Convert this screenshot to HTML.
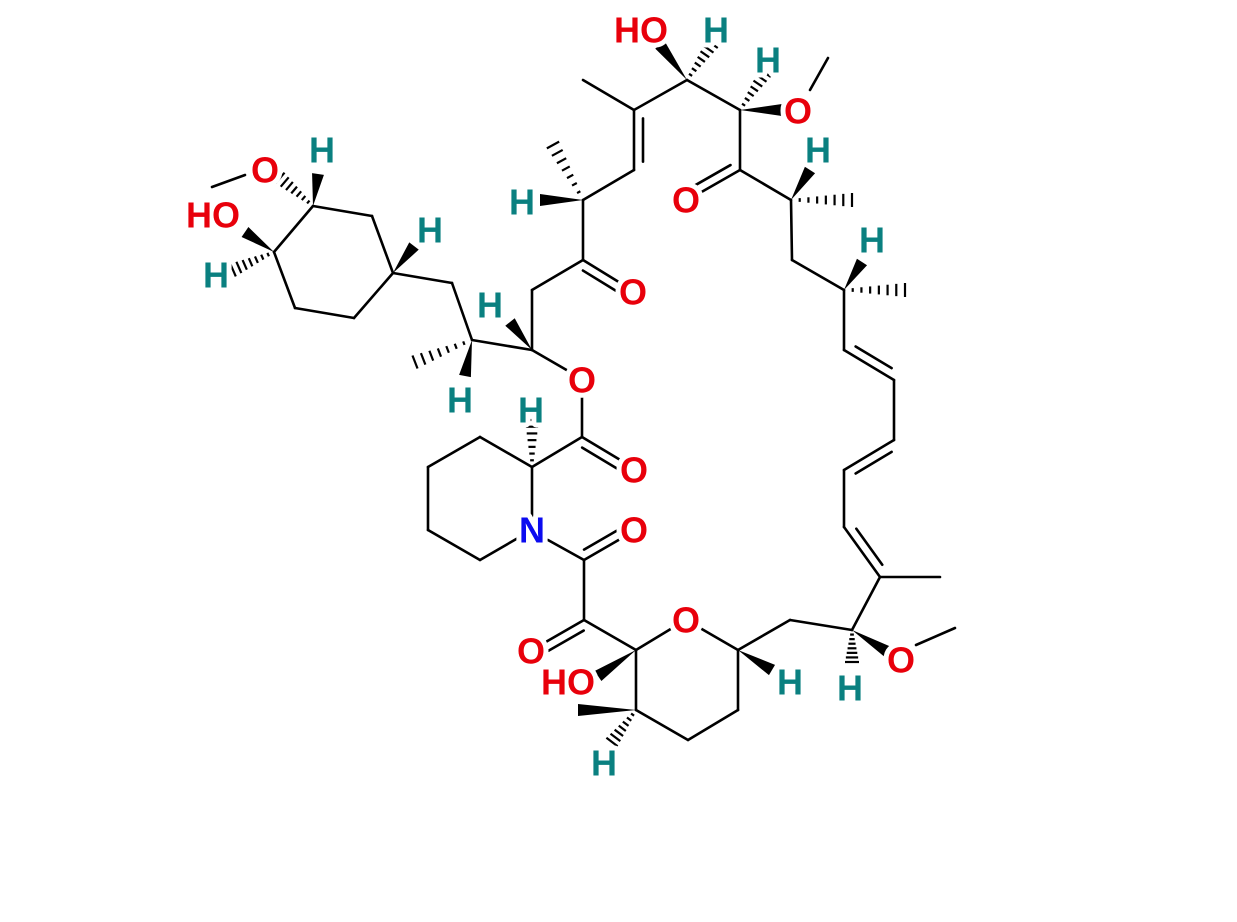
<!DOCTYPE html>
<html><head><meta charset="utf-8"><style>
html,body{margin:0;padding:0;background:#fff;}
svg{display:block}
text{font-family:"Liberation Sans",sans-serif;font-weight:bold;font-size:36px;text-anchor:middle;dominant-baseline:central;paint-order:stroke;stroke:#fff;stroke-width:10px;stroke-linejoin:round}
.O{fill:#e8000b}.H{fill:#0a8080}.N{fill:#0b0bf0}
</style></head><body>
<svg id="s" width="1237" height="922" viewBox="0 0 1237 922" xmlns="http://www.w3.org/2000/svg">
<g id="b" stroke="#000" stroke-width="2.6" stroke-linecap="round" fill="none"></g>
<g id="w" fill="#000"></g>
<g id="t"></g>
</svg>
<script>
const NS="http://www.w3.org/2000/svg";
const B=document.getElementById('b'),W=document.getElementById('w'),T=document.getElementById('t');
function L(a,b,c,d){const l=document.createElementNS(NS,'line');l.setAttribute('x1',a);l.setAttribute('y1',b);l.setAttribute('x2',c);l.setAttribute('y2',d);B.appendChild(l);}
function S(p){for(let i=0;i<p.length-1;i++)L(p[i][0],p[i][1],p[i+1][0],p[i+1][1]);}
function D(a,b,side){ // double bond, inner line offset to side (+1/-1)
 L(a[0],a[1],b[0],b[1]);
 const dx=b[0]-a[0],dy=b[1]-a[1],len=Math.hypot(dx,dy),nx=-dy/len*9*side,ny=dx/len*9*side;
 const s=0.14;
 L(a[0]+dx*s+nx,a[1]+dy*s+ny,b[0]-dx*s+nx,b[1]-dy*s+ny);}
function DO(a,b,side){ // carbonyl: inner line full-ish to O
 L(a[0],a[1],b[0],b[1]);
 const dx=b[0]-a[0],dy=b[1]-a[1],len=Math.hypot(dx,dy),nx=-dy/len*9*side,ny=dx/len*9*side;
 L(a[0]+dx*0.12+nx,a[1]+dy*0.12+ny,b[0]+nx,b[1]+ny);}
function WG(a,b){const dx=b[0]-a[0],dy=b[1]-a[1],len=Math.hypot(dx,dy),nx=-dy/len*6,ny=dx/len*6;
 const p=document.createElementNS(NS,'polygon');p.setAttribute('points',`${a[0]},${a[1]} ${b[0]+nx},${b[1]+ny} ${b[0]-nx},${b[1]-ny}`);W.appendChild(p);}
function HS(a,b){const dx=b[0]-a[0],dy=b[1]-a[1],len=Math.hypot(dx,dy),ux=-dy/len,uy=dx/len;const n=7;
 for(let i=1;i<=n;i++){const f=i/n,w=1+6*f,x=a[0]+dx*f,y=a[1]+dy*f;const l=document.createElementNS(NS,'line');
 l.setAttribute('x1',x+ux*w);l.setAttribute('y1',y+uy*w);l.setAttribute('x2',x-ux*w);l.setAttribute('y2',y-uy*w);l.setAttribute('stroke','#000');l.setAttribute('stroke-width','2.2');W.appendChild(l);}}
function X(s,x,y,c){const t=document.createElementNS(NS,'text');t.setAttribute('x',x);t.setAttribute('y',y);t.setAttribute('class',c);t.textContent=s;T.appendChild(t);}

const Ca=[687,80],Cb=[740,110],Cc=[634,110],Cd=[634,170],Ce=[583,200],Cf=[583,260],Cg=[532,290],Ch=[532,350];
const Oe=[582,380],Ci=[582,437],Cj=[532,467],N=[532,530];
const Ck=[584,560],Cl=[584,620],Cm=[636,650],Or=[686,620],Cn=[738,650],Co=[636,710];
const Cp=[790,620],Cq=[852,630],Cr=[880,577],Cs=[844,527],Ct=[844,290],Cu=[791,200],Cv=[740,170];
const Cw=[472,340],Cx=[393,273];
// top
S([Cc,Ca,Cb]);L(Cc[0],Cc[1],583,80);
D(Cc,Cd,-1);S([Cd,Ce,Cf,Cg,Ch]);
WG(Ca,[660,45]);HS(Ca,[712,44]);
HS(Cb,[765,73]);WG(Cb,[782,110]);L(810,90,828,58);
HS(Ce,[553,145]);WG(Ce,[540,200]);
DO(Cf,[622,284],1);
WG(Ch,[510,322]);
L(Ch[0],Ch[1],570,372);L(582,396,Ci[0],Ci[1]);
DO(Ci,[622,461],1);
S([Ci,Cj,N]);HS(Cj,[532,420]);
S([Cj,[480,437],[428,467],[428,530],[480,560],[518,538]]);
L(548,540,Ck[0],Ck[1]);DO(Ck,[622,538],-1);
S([Ck,Cl,Cm]);DO(Cl,[544,643],-1);
L(Cm[0],Cm[1],674,627);L(700,628,Cn[0],Cn[1]);
S([Cn,[738,710],[688,740],Co,Cm]);
WG(Cm,[598,676]);WG(Co,[578,710]);HS(Co,[612,742]);
WG(Cn,[772,670]);
S([Cn,Cp,Cq]);HS(Cq,[852,662]);WG(Cq,[888,652]);L(916,645,955,628);
S([Cq,Cr]);L(Cr[0],Cr[1],940,577);D(Cr,Cs,1);
S([Cs,[844,470]]);D([844,470],[894,440],1);S([[894,440],[894,380]]);D([894,380],[844,350],1);S([[844,350],Ct]);
WG(Ct,[862,262]);HS(Ct,[905,290]);
S([Ct,[792,260],Cu]);WG(Cu,[810,170]);HS(Cu,[852,200]);
S([Cu,Cv,Cb]);DO(Cv,[698,194],1);
// left
S([Ch,Cw,[452,283],Cx]);HS(Cw,[415,362]);WG(Cw,[465,376]);
const Cy=[313,206],Cz=[274,252];
S([Cy,[372,216],Cx,[354,318],[295,308],Cz,Cy]);
WG(Cx,[414,246]);WG(Cy,[318,174]);HS(Cy,[280,178]);L(212,187,245,175);
WG(Cz,[245,232]);HS(Cz,[233,270]);

X('HO',641,30,'O');X('H',716,30,'H');X('H',768,60,'H');X('O',798,111,'O');
X('H',522,202,'H');X('O',686,200,'O');X('H',818,150,'H');
X('O',633,292,'O');X('H',872,240,'H');X('H',490,305,'H');
X('O',582,380,'O');X('H',531,410,'H');X('O',634,470,'O');
X('N',532,530,'N');X('O',634,530,'O');
X('O',531,651,'O');X('O',686,620,'O');X('HO',568,682,'O');X('H',790,682,'H');
X('H',604,763,'H');X('O',901,660,'O');X('H',850,688,'H');
X('H',460,400,'H');X('H',430,230,'H');X('H',322,150,'H');
X('O',265,170,'O');X('HO',213,215,'O');X('H',216,275,'H');
</script>
</body></html>
